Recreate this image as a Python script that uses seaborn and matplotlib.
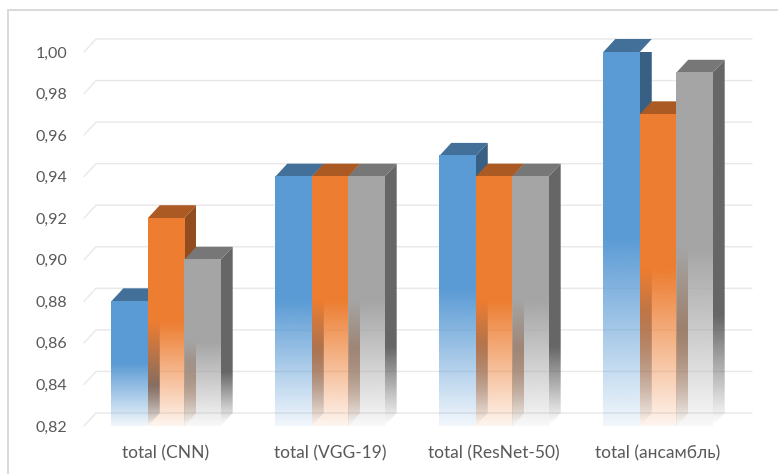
"""
3D-style clustered bar chart (Excel look) - metric 'total' per model
"""
import numpy as np
import pandas as pd
import matplotlib
matplotlib.use('Agg')
import matplotlib.pyplot as plt
from matplotlib.patches import Polygon
from matplotlib.lines import Line2D
import matplotlib.colors as mcolors
import seaborn as sns

# Data
categories = ['total (CNN)', 'total (VGG-19)', 'total (ResNet-50)', 'total (ансамбль)']
series_names = ['Ряд 1', 'Ряд 2', 'Ряд 3']
series_blue = [0.88, 0.94, 0.95, 1.00]
series_orange = [0.92, 0.94, 0.94, 0.97]
series_gray = [0.90, 0.94, 0.94, 0.99]
colors = ['#5B9BD5', '#ED7D31', '#A5A5A5']
y_ticks = [0.82, 0.84, 0.86, 0.88, 0.90, 0.92, 0.94, 0.96, 0.98, 1.00]
y_tick_labels = [f'{v:.2f}'.replace('.', ',') for v in y_ticks]

df = pd.DataFrame({
    'category': categories * 3,
    'series': [s for s in series_names for _ in categories],
    'value': series_blue + series_orange + series_gray,
})

# Figure setup
sns.set_style('white')
plt.rcParams['font.family'] = ['Lato', 'DejaVu Sans']

W, H = 778, 474
fig = plt.figure(figsize=(W / 100, H / 100), dpi=100)
ax_left, ax_right, ax_bottom, ax_top = 84, 740, 426, 52  # pixels
ax = fig.add_axes([ax_left / W, (H - ax_bottom) / H,
                   (ax_right - ax_left) / W, (ax_bottom - ax_top) / H])

sns.barplot(data=df, x='category', y='value', hue='series', palette=colors,
            width=0.667, saturation=1, legend=False, ax=ax)

ymin, ymax = y_ticks[0], y_ticks[-1]
xmin, xmax = -0.5, len(categories) - 0.5
ax.set_xlim(xmin, xmax)
ax.set_ylim(ymin, ymax)

# depth of the 3D effect, in data units
dx = 12 * (xmax - xmin) / (ax_right - ax_left)
dy = 13 * (ymax - ymin) / (ax_bottom - ax_top)


def fade_image(rgb, solid_from, floor, n=200):
    """vertical gradient: solid on top, fading out towards the bottom"""
    f = np.linspace(0, 1, n)
    alpha = np.clip(floor + (1 - floor) * f / solid_from, 0, 1)
    img = np.zeros((n, 1, 4))
    img[:, 0, :3] = rgb
    img[:, 0, 3] = alpha
    return img


# back-wall gridlines with perspective offset
for v in y_ticks:
    ax.add_line(Line2D([xmin, xmin + dx, xmax + dx], [v, v + dy, v + dy],
                       color='#E8E8E8', lw=1.0, zorder=0.5, clip_on=False))

# turn the flat bars into 3D boxes
bars = sorted(ax.patches, key=lambda p: p.get_x())
for i, p in enumerate(bars):
    x0, w, top = p.get_x(), p.get_width(), p.get_height()
    rgb = np.array(mcolors.to_rgb(p.get_facecolor()))
    p.set_visible(False)
    z = 2 + i * 0.01

    # side face
    side_pts = [(x0 + w, ymin), (x0 + w + dx, ymin + dy),
                (x0 + w + dx, top + dy), (x0 + w, top)]
    side_clip = Polygon(side_pts, closed=True, fill=False, lw=0, zorder=z)
    ax.add_patch(side_clip)
    im = ax.imshow(fade_image(rgb * 0.62, 0.3, 0.0), origin='lower', aspect='auto',
                   extent=(x0 + w, x0 + w + dx, ymin, top + dy),
                   interpolation='bilinear', zorder=z)
    im.set_clip_path(side_clip)

    # top face
    top_pts = [(x0, top), (x0 + dx, top + dy), (x0 + w + dx, top + dy), (x0 + w, top)]
    ax.add_patch(Polygon(top_pts, closed=True, facecolor=rgb * 0.72,
                         edgecolor='none', zorder=z + 0.001, clip_on=False))

    # front face
    ax.imshow(fade_image(rgb, 0.5, 0.08), origin='lower', aspect='auto',
              extent=(x0, x0 + w, ymin, top), interpolation='bilinear',
              zorder=z + 0.002)

ax.set_xlim(xmin, xmax)
ax.set_ylim(ymin, ymax)
ax.set_yticks(y_ticks)
ax.set_yticklabels(y_tick_labels)
ax.set_xlabel('')
ax.set_ylabel('')
ax.tick_params(axis='both', length=0, colors='#595959')
ax.tick_params(axis='y', pad=12, labelsize=11.5)
ax.tick_params(axis='x', pad=14, labelsize=12.5)
for s in ax.spines.values():
    s.set_visible(False)
ax.patch.set_alpha(0)

# chart border (only top and left edges visible in the crop)
fig.add_artist(Line2D([8 / W, 1], [1 - 10 / H, 1 - 10 / H],
                      transform=fig.transFigure, color='#D9D9D9', lw=1.4))
fig.add_artist(Line2D([8 / W, 8 / W], [0, 1 - 10 / H],
                      transform=fig.transFigure, color='#D9D9D9', lw=1.4))

fig.savefig('out.png', dpi=100)
